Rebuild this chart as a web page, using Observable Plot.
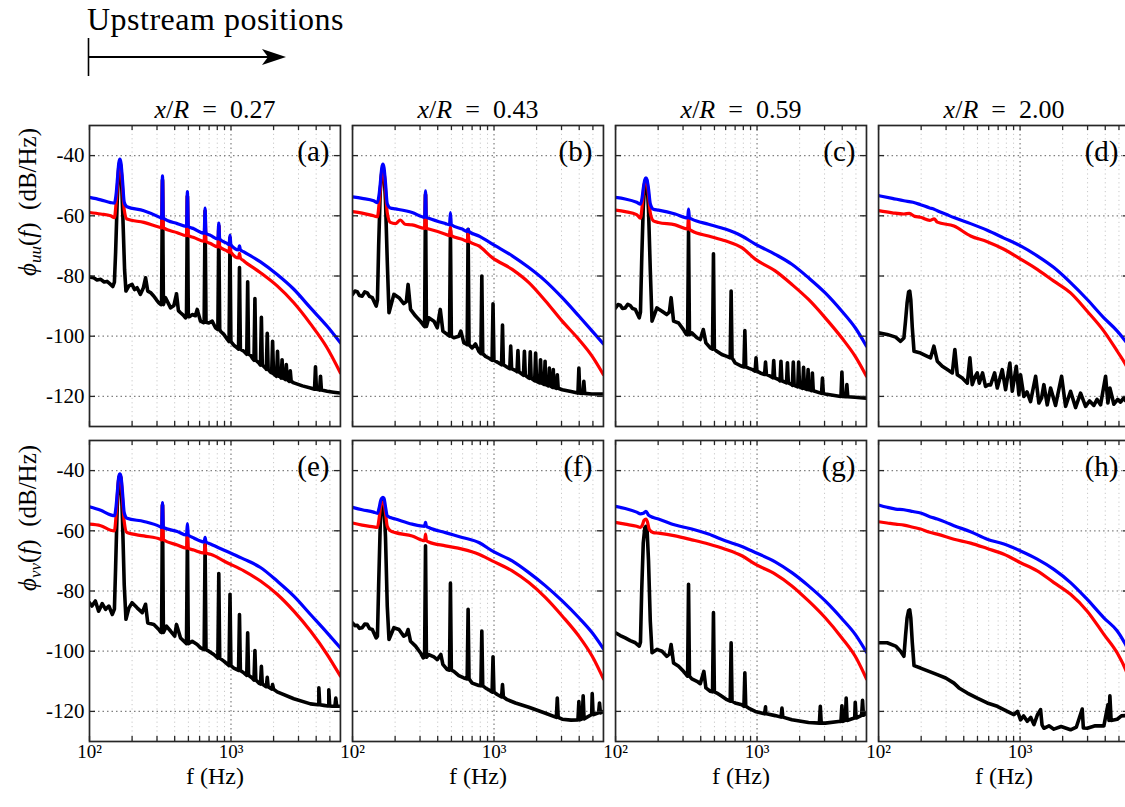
<!DOCTYPE html>
<html><head><meta charset="utf-8">
<script src="https://cdn.jsdelivr.net/npm/d3@7"></script>
<script src="https://cdn.jsdelivr.net/npm/@observablehq/plot@0.6"></script>
<style>
html,body{margin:0;padding:0;background:#fff;overflow:hidden;}
#wrap{position:relative;width:1125px;height:807px;overflow:hidden;font-family:"Liberation Serif","DejaVu Serif",serif;}
#head{position:relative;height:88px;}
</style></head><body>
<div id="wrap">
<div id="head">
<svg width="400" height="88" style="display:block">
<text x="87" y="30" font-size="32" font-family="Liberation Serif" fill="#000" letter-spacing="0.5">Upstream positions</text>
<line x1="88.5" y1="38" x2="88.5" y2="76" stroke="#000" stroke-width="1.6"/>
<line x1="88" y1="57" x2="268" y2="57" stroke="#000" stroke-width="1.8"/>
<path d="M286,57 L262,49 L268,57 L262,65 Z" fill="#000"/>
</svg>
</div>
<div id="chart"></div>
</div>
<script>
// ---------- column / row categories ----------
const colValues = ["0.27", "0.43", "0.59", "2.00"];
const rowKeys = ["uu", "vv"];
const panelLetters = ["a","b","c","d","e","f","g","h"];
const yTicks = [-40, -60, -80, -100, -120];
const xMajor = [100, 1000];
const xMinor = [200, 300, 400, 500, 600, 700, 800, 900, 2000, 3000, 4000, 5000];

// ---------- series: [f (Hz), dB/Hz]; peaks: [f, base, peak] ----------
// (a)
const aBlue = [[100,-53.9],[120,-54.7],[141,-55.6],[150,-55.8],[154,-53],[158,-47],[161,-42.5],[164,-41.2],[167,-42.5],[171,-48],[176,-55.5],[184,-57],[242,-58.3],[317,-60.6],[417,-62.6],[546,-64.3],[716,-66.5],[940,-69.2],[1233,-72],[1616,-75.3],[2120,-79.5],[2780,-84.4],[3647,-90.6],[4785,-96.7],[5935,-102.2]];
const aBluePk = [[328,-60.8,-46.7],[492,-63.5,-52],[656,-65.8,-57.4],[820,-67.7,-62.4],[984,-69.6,-66.4],[1148,-71.3,-70]];
const aRed = [[100,-58.9],[120,-59.4],[141,-60],[150,-60.6],[154,-56],[158,-49],[161,-44],[164,-42.5],[167,-44],[171,-50],[176,-58],[184,-61.1],[242,-62.2],[317,-63.9],[417,-65.6],[546,-67.2],[716,-69.2],[940,-71.7],[1233,-75],[1616,-78.9],[2120,-83.3],[2780,-88.9],[3647,-95.9],[4785,-103.9],[5935,-112.2]];
const aRedPk = [[328,-64,-48],[492,-66.6,-53],[656,-68.5,-58],[820,-70.3,-63],[984,-72.1,-67],[1148,-74,-72.5]];
const aBlack = [[100,-80.3],[107,-80.6],[113,-81.3],[120,-81.1],[127,-82],[133,-81.8],[141,-82.8],[146,-83.5],[150,-82],[153,-72],[157,-55],[161,-44],[164,-42],[167,-44],[172,-60],[177,-78],[181,-85],[190,-83.3],[200,-82.8],[208,-84.5],[217,-83.9],[229,-86.1],[240,-84],[249,-80.6],[258,-85],[270,-85.5],[285,-86.7],[298,-88],[309,-88.9],[320,-89.5],[344,-87.2],[360,-89],[374,-90.6],[395,-89.8],[412,-85.9],[425,-91.5],[440,-92.2],[460,-93],[477,-93.9],[510,-93.5],[532,-92.8],[560,-93.2],[577,-91.1],[609,-95],[640,-95.5],[697,-95.6],[736,-95],[777,-97.2],[850,-98.5],[890,-99.4],[940,-101],[1047,-103],[1100,-103.8],[1233,-105],[1380,-106.4],[1412,-107.2],[1573,-108.9],[1700,-110],[1754,-110.6],[1902,-111.9],[2000,-112.5],[2200,-113.1],[2400,-114.2],[2780,-115.5],[3200,-116.5],[3647,-117.2],[4200,-117.8],[4785,-118.3],[5300,-118.6],[5935,-118.9]];
const aBlackPk = [[328,-89.5,-48],[492,-93.5,-53.5],[656,-95.4,-58.5],[820,-97.8,-63.5],[984,-101.8,-67.5],[1148,-104.3,-77.2],[1312,-106,-81.9],[1476,-108,-87.5],[1640,-109.6,-93.7],[1804,-111,-99],[1968,-112.2,-101.7],[2132,-113.3,-105],[2296,-113.9,-107.8],[2460,-114.4,-109.4],[2624,-115,-111.5],[3955,-117.6,-110.2],[4292,-117.9,-113.3]];
// (b)
const bBlue = [[100,-53.7],[117,-54.2],[141,-55],[150,-55.6],[154,-53],[158,-48],[161,-44],[164,-42.8],[167,-44],[171,-49],[176,-56],[185,-57.4],[201,-57.7],[264,-58.9],[346,-60.8],[454,-62.6],[596,-64.4],[781,-66.7],[1025,-70],[1344,-73.3],[1763,-77.2],[2312,-81.7],[3033,-87.2],[3979,-93.3],[4943,-98.3],[5935,-102.6]];
const bBluePk = [[328,-60.5,-51.7],[492,-63,-58.9],[656,-65.2,-64.5]];
const bRed = [[100,-58.6],[117,-59.1],[141,-60],[150,-60.3],[154,-56],[158,-50],[161,-45.5],[164,-44.5],[167,-45.5],[171,-51],[176,-59],[185,-62.2],[201,-62.6],[218,-61.4],[235,-62.8],[264,-63],[346,-64.4],[454,-66.1],[596,-67.8],[781,-70],[971,-73.9],[1344,-77.8],[1763,-82.2],[2312,-88.3],[3033,-95],[3979,-101.1],[4943,-106.7],[5935,-112.8]];
const bRedPk = [[328,-64.2,-52.5],[492,-66.6,-63.7],[656,-68.5,-65.5]];
const bBlack = [[100,-86.1],[104,-85],[108,-85.2],[112,-86.5],[117,-86.7],[122,-85.3],[127,-85.6],[132,-86.8],[138,-87.2],[147,-90],[150,-88],[153,-70],[157,-52],[161,-45.5],[164,-44.5],[167,-45.5],[171,-55],[176,-75],[181,-92.2],[196,-86.1],[213,-87.2],[230,-89.2],[240,-88.5],[247,-82.8],[257,-91.1],[279,-93.3],[302,-95],[316,-96.3],[346,-93.9],[376,-95],[397,-97.2],[417,-91.1],[435,-98.3],[467,-99.4],[520,-100.5],[564,-100],[583,-98.3],[612,-102.2],[630,-102.5],[701,-103.9],[740,-102.6],[781,-105],[871,-106.7],[929,-107.4],[1053,-108.6],[1240,-110.3],[1419,-111.4],[1600,-112.8],[1763,-113.9],[2000,-115],[2312,-116.1],[2650,-117],[3033,-117.8],[3500,-118.4],[3900,-118.9],[4900,-119.2],[5935,-119.2]];
const bBlackPk = [[328,-96.8,-53],[492,-100,-65],[656,-102.8,-64.5],[820,-105.8,-80],[984,-108,-89.2],[1148,-109.5,-96.3],[1312,-110.8,-103.3],[1476,-111.8,-104.8],[1640,-113,-105],[1804,-114,-105.2],[1968,-114.8,-105.6],[2132,-115.5,-107.8],[2296,-116,-108.3],[2460,-116.5,-110.6],[2624,-117,-111.1],[2800,-117.3,-112.8],[3979,-118.9,-110.6],[4313,-119,-115]];
// (c)
const cBlue = [[100,-53.9],[117,-54.4],[141,-55.5],[150,-56.1],[154,-54],[158,-50],[161,-48],[164,-47.4],[167,-48],[171,-51],[176,-56],[185,-57.8],[201,-58.1],[264,-59.4],[346,-61.1],[454,-62.8],[596,-64.4],[781,-66.7],[971,-69.4],[1344,-72.8],[1763,-76.1],[2312,-80.6],[3033,-85.6],[3979,-91.7],[4943,-97.2],[5935,-103.3]];
const cBluePk = [[328,-60.7,-57.8]];
const cRed = [[100,-58.1],[117,-58.6],[141,-59.6],[150,-60.8],[154,-57],[158,-51],[161,-48.8],[164,-48.3],[167,-48.8],[171,-53],[176,-59],[185,-61.7],[201,-62.2],[264,-63],[346,-65],[454,-66.7],[596,-68.3],[781,-70.6],[971,-74.4],[1344,-78.3],[1763,-82.8],[2312,-87.8],[3033,-93.9],[3979,-100.6],[4943,-106.7],[5935,-113.3]];
const cRedPk = [[328,-64.4,-60]];
const cBlack = [[100,-90.6],[104,-89.5],[108,-89.7],[112,-90.8],[117,-90.6],[122,-89.4],[127,-89.8],[132,-90.8],[138,-91.1],[147,-93.9],[150,-92],[153,-75],[157,-57],[161,-49],[164,-48],[167,-49],[171,-58],[176,-78],[181,-95],[196,-90.6],[213,-91.7],[230,-92.8],[240,-92],[247,-87.2],[257,-95],[279,-95.6],[302,-97.8],[316,-99.4],[346,-98.9],[376,-100.5],[397,-101.1],[417,-97.8],[435,-102.2],[467,-103.9],[520,-105],[564,-106.1],[612,-106.7],[701,-108.9],[781,-110],[871,-110.6],[929,-111.1],[1053,-112.2],[1240,-113.3],[1419,-114.4],[1763,-116.1],[2312,-117.8],[3033,-119.2],[3900,-120],[4900,-120.3],[5935,-120.6]];
const cBlackPk = [[328,-99.5,-65],[492,-104.3,-72.6],[656,-107.2,-85],[820,-110.2,-98.1],[984,-111.6,-107.2],[1148,-112.7,-108.6],[1312,-113.8,-108.1],[1476,-114.8,-108.3],[1640,-115.5,-108.8],[1804,-116.3,-108.6],[1968,-116.8,-108.6],[2132,-117.3,-110.3],[2296,-117.7,-111.1],[2460,-118.1,-112.2],[2900,-119,-113.9],[3979,-120,-111.9],[4313,-120.1,-116.1]];
// (d)
const dBlue = [[100,-53.3],[125,-54.2],[151,-55],[175,-55.5],[198,-56.3],[230,-57.4],[247,-57.8],[260,-58.3],[300,-59.5],[341,-60.6],[447,-62.6],[586,-64.8],[769,-67.4],[1008,-70],[1322,-73.3],[1734,-77.2],[2274,-82.2],[2983,-87.8],[3911,-93.9],[4863,-98.3],[5567,-101.7],[5935,-103.6]];
const dBluePk = [];
const dRed = [[100,-58.3],[125,-59],[151,-59.4],[165,-59.2],[180,-60.2],[198,-60.5],[230,-61.5],[247,-61],[260,-62.1],[341,-63.4],[447,-66.7],[586,-68.6],[769,-71.1],[1008,-74.4],[1322,-77.8],[1734,-81.7],[2274,-85.6],[2983,-91.7],[3911,-98.3],[4863,-105],[5567,-109.4],[5935,-112]];
const dRedPk = [];
const dBlack = [[100,-98.9],[115,-99.4],[132,-100.3],[143,-101.7],[151,-100.6],[155,-95],[159,-89],[163,-85.3],[166,-85],[169,-88],[173,-97],[178,-105],[198,-105.6],[221,-106.7],[233,-107.2],[246,-103.3],[260,-108.3],[282,-110],[306,-111.1],[332,-112.2],[346,-104.4],[360,-112.8],[390,-113.9],[424,-115.6],[442,-107.2],[459,-116.1],[480,-113.5],[498,-112.2],[515,-115.6],[543,-112.2],[570,-116.7],[600,-116.1],[619,-116.2],[661,-112.2],[690,-117.2],[748,-111.1],[790,-117.8],[847,-108.9],[881,-118.3],[940,-110],[981,-119.4],[1008,-112.8],[1064,-120],[1120,-118.5],[1186,-121.7],[1288,-113.3],[1358,-122.2],[1420,-120.5],[1473,-116.1],[1556,-122.8],[1643,-117.2],[1782,-123],[1965,-113.3],[2097,-123.3],[2274,-118.3],[2467,-123.7],[2677,-118.9],[2904,-123.3],[3100,-121.5],[3324,-123],[3500,-121],[3706,-122.8],[4020,-113.3],[4177,-122.2],[4313,-117.2],[4602,-122.6],[4900,-121],[5130,-121.9],[5400,-120.5],[5567,-121.4],[5935,-121]];
const dBlackPk = [];
// (e)
const eBlue = [[100,-52],[120,-53.2],[141,-54.7],[150,-55],[154,-52],[158,-46],[161,-42],[164,-41.1],[167,-42],[171,-47],[176,-54],[184,-55.8],[242,-56.9],[317,-58.7],[417,-60.2],[546,-62.4],[716,-64.4],[940,-66.9],[1233,-69.4],[1616,-72.2],[2120,-76.7],[2780,-81.7],[3647,-87.8],[4785,-93.9],[5935,-98.9]];
const eBluePk = [[328,-58.9,-50.6],[492,-61.4,-57.6],[656,-63.7,-62.2]];
const eRed = [[100,-57.8],[120,-58.3],[141,-59.8],[150,-60],[154,-55],[158,-47],[161,-42.5],[164,-41.5],[167,-42.5],[171,-49],[176,-57],[184,-60.6],[242,-61.7],[317,-62.8],[417,-64.7],[546,-66.4],[716,-67.8],[940,-70.6],[1233,-73.3],[1616,-76.7],[2120,-81.1],[2780,-86.7],[3647,-93.3],[4785,-101.1],[5935,-108.3]];
const eRedPk = [[328,-63,-51],[492,-65.8,-61.1],[656,-67.4,-64.4]];
const eBlack = [[100,-83.9],[104,-85],[110,-83.3],[116,-86.7],[123,-84.2],[130,-86.1],[137,-85],[145,-87.8],[150,-86],[153,-72],[157,-52],[161,-43],[164,-41.5],[167,-43],[171,-56],[176,-78],[181,-89.4],[190,-85.6],[200,-83.9],[217,-85.6],[236,-87.2],[249,-84.4],[258,-90.6],[285,-91.1],[309,-92.8],[318,-93.6],[350,-91.7],[374,-93.3],[400,-95],[412,-91.1],[440,-95.6],[477,-97.2],[532,-96.7],[577,-97.8],[609,-98.9],[697,-100],[756,-101.1],[890,-103.3],[1047,-105.6],[1233,-107.2],[1412,-108.9],[1573,-110.6],[1754,-111.7],[2120,-113.5],[2780,-115.8],[3647,-117.5],[4177,-117.8],[4528,-118],[4913,-118.2],[5188,-118.3],[5935,-118.3]];
const eBlackPk = [[328,-93.8,-51.5],[492,-97.5,-61.5],[656,-99.5,-64.5],[820,-102.3,-74.2],[984,-104.8,-81.1],[1148,-106.4,-87.8],[1312,-108,-93.9],[1476,-109.6,-99.8],[1640,-110.9,-105],[1804,-111.8,-108.7],[1968,-112.6,-111.1],[4177,-117.8,-112.2],[4913,-118.2,-112.8],[5504,-118.3,-115.6]];
// (f)
const fBlue = [[100,-52.2],[117,-53],[141,-53.8],[150,-54.2],[154,-52.5],[158,-50],[161,-49.2],[164,-48.9],[167,-49.2],[171,-52],[176,-55],[185,-55.6],[201,-56.1],[264,-57.8],[346,-58.9],[454,-60.6],[596,-62.2],[781,-63.9],[971,-66.7],[1344,-70],[1763,-73.9],[2312,-78.3],[3033,-83.3],[3979,-88.9],[4943,-93.9],[5935,-99.2]];
const fBluePk = [[328,-58.5,-57.2]];
const fRed = [[100,-57.4],[117,-58.1],[141,-58.7],[150,-58.9],[154,-56],[158,-52],[161,-50.8],[164,-50.5],[167,-50.8],[171,-54],[176,-58.5],[185,-60],[201,-60.6],[264,-61.7],[346,-63.7],[454,-65],[596,-66.1],[781,-67.8],[971,-70],[1344,-73.3],[1763,-77.2],[2312,-82.2],[3033,-88.3],[3979,-95],[4943,-101.7],[5935,-109.2]];
const fRedPk = [[328,-63.3,-61.1]];
const fBlack = [[100,-90.6],[104,-91.5],[108,-91.4],[112,-92.4],[117,-92.2],[122,-91],[127,-91.1],[132,-92.5],[138,-92.8],[147,-95.6],[150,-95],[153,-78],[157,-58],[161,-51],[164,-50],[167,-51],[171,-62],[176,-85],[181,-96.1],[196,-92.2],[213,-92.8],[230,-95],[240,-94.5],[247,-92.8],[257,-96.7],[279,-98.3],[302,-100.5],[316,-102.2],[346,-101.1],[376,-101.9],[397,-102.8],[421,-101.1],[435,-104.4],[467,-106.1],[520,-106.7],[564,-108.1],[612,-108.9],[701,-110.6],[781,-111.4],[871,-112.2],[929,-113],[1053,-114.4],[1240,-116.1],[1419,-117.2],[1763,-118.6],[2312,-120.6],[3033,-122.6],[3500,-122.9],[3900,-122.8],[4900,-121.1],[5935,-120]];
const fBlackPk = [[328,-102,-65],[492,-106.3,-77.4],[656,-109.2,-86.1],[820,-111.5,-93.3],[984,-113.6,-101.9],[1148,-115.2,-111.1],[2800,-122,-115.6],[3979,-122.8,-116.7],[4266,-122.5,-114.8],[4943,-121.1,-114.1],[5566,-120.5,-117.2]];
// (g)
const gBlue = [[100,-51.9],[117,-52.6],[141,-53.8],[150,-54.4],[157,-54.2],[164,-53.5],[171,-54.8],[185,-55.6],[201,-56.1],[264,-58.1],[346,-59.4],[454,-61.1],[596,-63.3],[781,-65.2],[971,-67.2],[1344,-70.3],[1763,-73.9],[2312,-78.3],[3033,-83.3],[3979,-89.2],[4943,-94.4],[5935,-100.3]];
const gBluePk = [];
const gRed = [[100,-57.2],[117,-57.8],[141,-58.5],[150,-58.9],[155,-58],[159,-56.5],[164,-56.1],[168,-57],[173,-59.5],[185,-60.6],[201,-60.8],[264,-61.7],[346,-63],[454,-64.4],[596,-66.1],[781,-68.3],[971,-71.1],[1344,-74.4],[1763,-78.3],[2312,-83.3],[3033,-88.9],[3979,-95.6],[4943,-101.7],[5935,-109.2]];
const gRedPk = [];
const gBlack = [[100,-93.9],[108,-94.8],[117,-95.6],[127,-96.5],[138,-97.2],[147,-98.3],[150,-97],[153,-80],[157,-64],[161,-59],[164,-58.5],[167,-59.5],[171,-70],[176,-90],[181,-100.5],[196,-99.4],[213,-100],[230,-101.7],[240,-101],[247,-97.8],[257,-103.9],[279,-105],[302,-106.7],[316,-107.8],[346,-109.2],[376,-110],[397,-110.8],[421,-106.7],[435,-112.2],[467,-113.3],[520,-113.9],[564,-115],[612,-116.1],[701,-117.2],[781,-117.8],[871,-118.9],[971,-120],[1154,-120.8],[1344,-121.4],[1763,-122.8],[2312,-123.7],[3033,-123.9],[3900,-123.3],[4900,-122.2],[5935,-120.6]];
const gBlackPk = [[328,-108.3,-77.8],[492,-113.5,-87.2],[656,-116.6,-97.2],[820,-118.3,-107.2],[1148,-120.8,-118.5],[1500,-121.9,-118.9],[2800,-123.9,-118.3],[3979,-123.3,-118.1],[4266,-123,-115.6],[4943,-122.2,-117],[5566,-121.3,-116.3]];
// (h)
const hBlue = [[100,-51.4],[115,-52.2],[132,-52.8],[151,-53],[175,-53.6],[198,-54.1],[230,-55.3],[260,-56.1],[300,-57.2],[341,-58.3],[447,-60.3],[586,-62.8],[769,-64.4],[1008,-66.7],[1322,-69.4],[1734,-72.8],[2274,-77.2],[2983,-82.8],[3911,-88.9],[4863,-93.3],[5567,-97.8],[5935,-100.3]];
const hBluePk = [];
const hRed = [[100,-57],[115,-57.4],[132,-57.8],[151,-58.1],[175,-58.8],[198,-59.4],[230,-60.5],[260,-61.1],[341,-62.8],[447,-64.1],[586,-65.9],[769,-67.8],[1008,-70.6],[1322,-73.3],[1734,-77.2],[2274,-81.1],[2983,-86.7],[3911,-94.4],[4863,-100.6],[5567,-106.1],[5935,-109.5]];
const hRedPk = [];
const hBlack = [[100,-97.2],[115,-97.2],[132,-98.3],[143,-100],[151,-101.7],[155,-95],[159,-89],[163,-86.5],[166,-86.3],[169,-89],[173,-97],[178,-104.8],[198,-105.6],[227,-106.7],[260,-107.8],[298,-108.9],[341,-110.6],[370,-112.2],[424,-113.9],[498,-115.6],[586,-117.2],[690,-118.3],[812,-120],[904,-121.1],[960,-120],[1008,-122.8],[1060,-121.5],[1124,-123.3],[1190,-122],[1253,-124.4],[1330,-121],[1396,-119.4],[1430,-124.5],[1473,-125.6],[1600,-124.8],[1734,-125.9],[1950,-125],[2274,-126.1],[2500,-125.2],[2750,-119.2],[2800,-125.5],[2983,-125.6],[3400,-124.8],[3911,-124.8],[4177,-117.8],[4250,-123],[4313,-114.8],[4400,-123],[4863,-122.6],[5200,-121.5],[5567,-121.4],[5935,-120.8]];
const hBlackPk = [];

// ---------- assemble table for Plot ----------
const seriesTable = {
  a: [aBlack, aBlackPk, aRed, aRedPk, aBlue, aBluePk],
  b: [bBlack, bBlackPk, bRed, bRedPk, bBlue, bBluePk],
  c: [cBlack, cBlackPk, cRed, cRedPk, cBlue, cBluePk],
  d: [dBlack, dBlackPk, dRed, dRedPk, dBlue, dBluePk],
  e: [eBlack, eBlackPk, eRed, eRedPk, eBlue, eBluePk],
  f: [fBlack, fBlackPk, fRed, fRedPk, fBlue, fBluePk],
  g: [gBlack, gBlackPk, gRed, gRedPk, gBlue, gBluePk],
  h: [hBlack, hBlackPk, hRed, hRedPk, hBlue, hBluePk]
};
function withPeaks(base, peaks) {
  const pts = base.map(([f, v]) => ({f, v}));
  for (const [f, b, p] of peaks) pts.push({f: f * 0.985, v: b}, {f, v: p}, {f: f * 1.015, v: b});
  return pts.sort((u, w) => u.f - w.f);
}
const panels = panelLetters.map((k, i) => ({key: k, col: colValues[i % 4], row: rowKeys[Math.floor(i / 4)]}));
const rows = [];
for (const p of panels) {
  const t = seriesTable[p.key];
  [["black", 0], ["red", 2], ["blue", 4]].forEach(([s, j]) => {
    for (const pt of withPeaks(t[j], t[j + 1])) rows.push({col: p.col, row: p.row, s, f: pt.f, v: pt.v});
  });
}

// ---------- layout ----------
const PI_X = 0.046, PI_Y = 0.0444;
const bw = (1040 / (4 - PI_X)) * (1 - PI_X);
const bh = (616 / (2 - PI_Y)) * (1 - PI_Y);
const axisColor = "#262626";

const chart = Plot.plot({
  width: 1129, height: 719,
  marginTop: 37, marginBottom: 66, marginLeft: 89, marginRight: 0,
  style: {fontFamily: "Liberation Serif, DejaVu Serif, serif", fontSize: "20px", maxWidth: "none", overflow: "visible", background: "transparent", color: "#000"},
  x: {type: "log", domain: [100, 5935]},
  y: {domain: [-130, -30]},
  fx: {domain: colValues, paddingInner: PI_X, paddingOuter: 0, round: false},
  fy: {domain: rowKeys, paddingInner: PI_Y, paddingOuter: 0, round: false, axis: null},
  marks: [
    Plot.gridX({ticks: xMinor, stroke: "#c8c8c8", strokeOpacity: 1, strokeDasharray: "1.2,3.2", strokeWidth: 1}),
    Plot.gridX({ticks: [1000], stroke: "#808080", strokeOpacity: 1, strokeDasharray: "1.5,3", strokeWidth: 1.2}),
    Plot.gridY({ticks: yTicks, stroke: "#808080", strokeOpacity: 1, strokeDasharray: "1.5,3", strokeWidth: 1.2}),
    Plot.line(rows, {filter: d => d.s === "black", x: "f", y: "v", fx: "col", fy: "row", stroke: "#000", strokeWidth: 3.6, clip: true}),
    Plot.line(rows, {filter: d => d.s === "red", x: "f", y: "v", fx: "col", fy: "row", stroke: "#ff0000", strokeWidth: 3.2, curve: "monotone-x", clip: true}),
    Plot.line(rows, {filter: d => d.s === "blue", x: "f", y: "v", fx: "col", fy: "row", stroke: "#0000ff", strokeWidth: 3.2, curve: "monotone-x", clip: true}),
    Plot.ruleY(yTicks, {insetRight: bw - 6, stroke: axisColor, strokeWidth: 1.3}),
    Plot.ruleY(yTicks, {insetLeft: bw - 6, stroke: axisColor, strokeWidth: 1.3}),
    Plot.ruleX(xMajor.concat(xMinor), {insetBottom: bh - 5, stroke: axisColor, strokeWidth: 1.3}),
    Plot.ruleX(xMajor.concat(xMinor), {insetTop: bh - 5, stroke: axisColor, strokeWidth: 1.3}),
    Plot.frame({stroke: axisColor, strokeWidth: 1.7}),
    Plot.axisY({ticks: yTicks, tickSize: 0, tickPadding: 5, tickFormat: d => String(d), fontSize: 21, label: null}),
    Plot.axisX({ticks: xMajor, tickSize: 0, tickPadding: 3, tickFormat: d => d === 100 ? "10\u00B2" : "10\u00B3", fontSize: 19, label: null}),
    Plot.axisFx({anchor: "top", tickSize: 0, tickPadding: 8, fontSize: 26, label: null, tickFormat: d => "x/R = " + d}),
    Plot.text(colValues, {fx: d => d, fy: () => "vv", frameAnchor: "bottom", dy: 42, text: () => "f (Hz)", fontSize: 24}),
    Plot.text(rowKeys, {fx: () => colValues[0], fy: d => d, frameAnchor: "left", dx: -62, rotate: -90, text: d => d, fontSize: 25, ariaDescription: "ylab"}),
    Plot.text(panels, {fx: "col", fy: "row", frameAnchor: "top-right", dx: -11, dy: 15, lineAnchor: "top", text: d => "(" + d.key + ")", fontSize: 29})
  ]
});
document.getElementById("chart").appendChild(chart);

// rich text: italic math symbols in titles and y labels
d3.select(chart).selectAll('g[aria-label="fx-axis tick label"] text').each(function () {
  const v = this.textContent.split("= ")[1];
  this.innerHTML = '<tspan font-style="italic">x</tspan>/<tspan font-style="italic">R</tspan>\u2002=\u2002' + v;
});
d3.select(chart).selectAll('g[aria-description="ylab"] text').each(function () {
  const sub = this.textContent;
  this.innerHTML = '<tspan font-style="italic">\u03D5</tspan><tspan font-style="italic" font-size="17" dy="5">' + sub +
    '</tspan><tspan dy="-5">(</tspan><tspan font-style="italic">f</tspan>)\u2002(dB/Hz)';
});
</script>
</body></html>
